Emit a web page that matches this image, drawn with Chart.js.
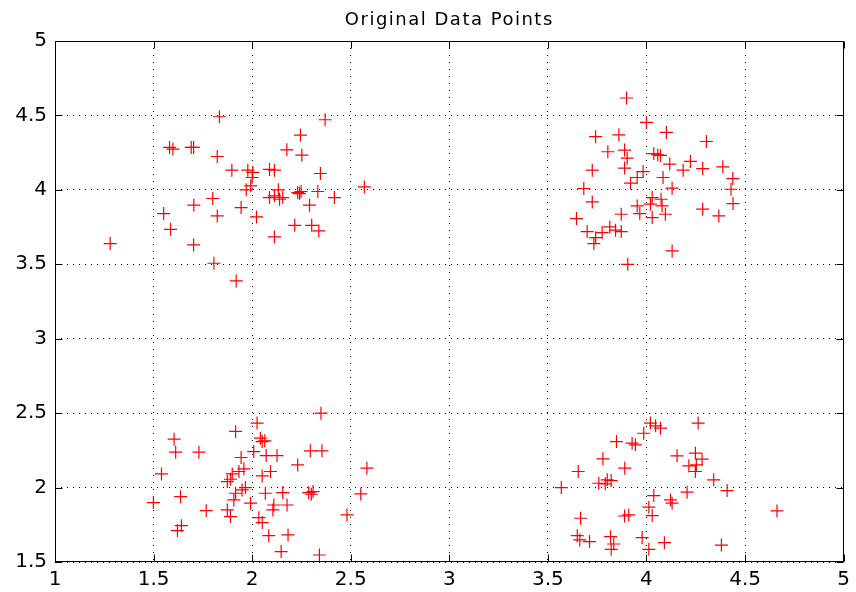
<!DOCTYPE html>
<html>
<head>
<meta charset="utf-8">
<title>Original Data Points</title>
<script src="https://cdn.jsdelivr.net/npm/chart.js@4/dist/chart.umd.min.js"></script>
<style>
  html, body { margin: 0; padding: 0; background: #fff; }
  #plot { display: block; }
</style>
</head>
<body>
<canvas id="plot" width="856" height="592"></canvas>
<script>
// ── Axis ticks ────────────────────────────────────────────────
const xTicks = [1, 1.5, 2, 2.5, 3, 3.5, 4, 4.5, 5];
const xTickLabels = ["1", "1.5", "2", "2.5", "3", "3.5", "4", "4.5", "5"];
const yTicks = [1.5, 2, 2.5, 3, 3.5, 4, 4.5, 5];
const yTickLabels = ["1.5", "2", "2.5", "3", "3.5", "4", "4.5", "5"];
const TITLE = "Original Data Points";

// ── Points, one pair of arrays per cluster ────────────────────
// upper left, around (2, 4)
const ulX = [1.834, 2.370, 2.245, 1.581, 1.598, 1.691, 1.703, 1.823, 2.176, 2.252,
             1.897, 1.978, 2.000, 2.003, 1.970, 1.993, 2.088, 2.113, 2.346, 2.133,
             2.088, 2.113, 2.139, 2.155, 2.231, 2.240, 2.248, 2.333, 2.417, 2.569,
             1.800, 1.704, 1.944, 2.291, 1.551, 1.823, 2.022, 1.586, 2.216, 2.302,
             2.338, 2.113, 1.280, 1.703, 1.806, 1.919];
const ulY = [4.491, 4.471, 4.368, 4.285, 4.274, 4.285, 4.285, 4.224, 4.269, 4.233,
             4.132, 4.132, 4.083, 4.117, 4.000, 4.027, 4.137, 4.132, 4.110, 4.000,
             3.948, 3.960, 3.937, 3.948, 3.982, 3.975, 3.989, 3.989, 3.948, 4.020,
             3.942, 3.897, 3.881, 3.897, 3.841, 3.825, 3.818, 3.735, 3.762, 3.762,
             3.724, 3.684, 3.639, 3.630, 3.507, 3.388];

// upper right, around (4, 4)
const urX = [3.899, 4.000, 4.101, 3.742, 3.860, 4.304, 3.804, 3.889, 3.902, 4.037,
             4.057, 4.071, 4.118, 4.186, 4.223, 4.285, 4.387, 4.438, 4.429, 4.439,
             3.725, 3.889, 3.983, 3.953, 3.919, 4.084, 4.130, 3.682, 3.725, 4.029,
             4.074, 4.020, 4.079, 3.953, 3.966, 4.096, 4.029, 3.872, 4.285, 4.367,
             3.645, 3.699, 3.742, 3.733, 3.775, 3.814, 3.843, 3.872, 4.130, 3.905];
const urY = [4.617, 4.453, 4.386, 4.357, 4.370, 4.325, 4.256, 4.267, 4.213, 4.244,
             4.235, 4.231, 4.173, 4.132, 4.191, 4.143, 4.155, 4.076, 4.004, 3.908,
             4.132, 4.146, 4.123, 4.083, 4.045, 4.083, 4.011, 4.009, 3.919, 3.948,
             3.937, 3.904, 3.892, 3.892, 3.841, 3.836, 3.814, 3.836, 3.870, 3.825,
             3.807, 3.720, 3.679, 3.639, 3.713, 3.751, 3.729, 3.720, 3.590, 3.500];

// lower left, around (2, 2)
const llX = [2.349, 2.025, 1.916, 1.604, 2.042, 2.051, 2.064, 1.612, 1.730, 2.008,
             2.071, 2.126, 2.295, 2.354, 1.944, 2.231, 2.582, 1.540, 1.958, 1.933,
             1.899, 2.093, 2.051, 1.874, 1.890, 1.966, 1.949, 2.067, 2.155, 2.287,
             2.300, 2.309, 2.551, 1.637, 1.499, 1.916, 1.907, 1.992, 2.110, 2.177,
             2.105, 1.767, 1.874, 1.890, 2.481, 2.034, 2.051, 1.641, 1.621, 2.084,
             2.182, 2.147, 2.341];
const llY = [2.500, 2.433, 2.377, 2.325, 2.332, 2.309, 2.314, 2.238, 2.238, 2.242,
             2.215, 2.215, 2.247, 2.247, 2.202, 2.152, 2.130, 2.092, 2.126, 2.108,
             2.092, 2.108, 2.078, 2.040, 2.056, 2.000, 1.984, 1.962, 1.966, 1.966,
             1.955, 1.973, 1.957, 1.939, 1.899, 1.962, 1.917, 1.895, 1.883, 1.883,
             1.850, 1.845, 1.850, 1.805, 1.816, 1.798, 1.765, 1.744, 1.711, 1.677,
             1.682, 1.570, 1.547];

// lower right, around (4, 2)
const lrX = [4.020, 4.046, 4.071, 3.986, 4.262, 3.848, 3.927, 3.944, 3.779, 3.890,
             4.155, 4.248, 4.282, 4.215, 4.253, 4.248, 3.654, 4.341, 4.409, 3.568,
             3.758, 3.791, 3.821, 3.801, 4.037, 4.122, 4.130, 4.206, 4.012, 4.029,
             3.889, 3.910, 3.666, 4.662, 3.649, 3.662, 3.711, 3.818, 3.834, 3.821,
             3.978, 4.012, 4.091, 4.380];
const lrY = [2.433, 2.415, 2.399, 2.365, 2.433, 2.309, 2.298, 2.287, 2.193, 2.130,
             2.213, 2.231, 2.191, 2.146, 2.152, 2.108, 2.108, 2.052, 1.980, 2.000,
             2.029, 2.025, 2.047, 2.052, 1.946, 1.917, 1.895, 1.969, 1.868, 1.812,
             1.809, 1.816, 1.794, 1.843, 1.677, 1.648, 1.637, 1.670, 1.621, 1.585,
             1.664, 1.585, 1.630, 1.614];

const clusters = [[ulX, ulY], [urX, urY], [llX, llY], [lrX, lrY]];
const points = clusters.flatMap(([xs, ys]) => xs.map((x, i) => ({ x, y: ys[i] })));

// ── Style ─────────────────────────────────────────────────────
const FONT = "'DejaVu Sans', 'Liberation Sans', sans-serif";
const TICK_LEN = 7;

// solid box round the plot area, inward tick marks on all four sides,
// and the title centred over the plot area
const axesBox = {
  id: "axesBox",
  afterDraw(chart) {
    const { ctx, chartArea: a, scales } = chart;
    const L = Math.round(a.left) + 0.5, R = Math.round(a.right) - 0.5;
    const T = Math.round(a.top) + 0.5, B = Math.round(a.bottom) - 0.5;
    ctx.save();
    ctx.strokeStyle = "#000";
    ctx.lineWidth = 1;
    ctx.strokeRect(L, T, R - L, B - T);
    ctx.beginPath();
    scales.x.ticks.forEach((t, i) => {
      const px = Math.round(scales.x.getPixelForTick(i)) + 0.5;
      ctx.moveTo(px, B); ctx.lineTo(px, B - TICK_LEN);
      ctx.moveTo(px, T); ctx.lineTo(px, T + TICK_LEN);
    });
    scales.y.ticks.forEach((t, i) => {
      const py = Math.round(scales.y.getPixelForTick(i)) + 0.5;
      ctx.moveTo(L, py); ctx.lineTo(L + TICK_LEN, py);
      ctx.moveTo(R, py); ctx.lineTo(R - TICK_LEN, py);
    });
    ctx.stroke();

    ctx.fillStyle = "#000";
    ctx.font = "18px " + FONT;
    ctx.letterSpacing = "1.5px";
    ctx.textAlign = "center";
    ctx.textBaseline = "alphabetic";
    ctx.fillText(TITLE, (a.left + a.right) / 2, a.top - 16);
    ctx.restore();
  }
};

new Chart(document.getElementById("plot"), {
  type: "scatter",
  data: {
    datasets: [{
      data: points,
      pointStyle: "cross",
      pointRadius: 6.5,
      pointHoverRadius: 6.5,
      borderColor: "#f00",
      backgroundColor: "#f00",
      borderWidth: 1.2,
    }]
  },
  options: {
    responsive: false,
    devicePixelRatio: 1,
    animation: false,
    layout: { padding: { left: 0, right: 8, top: 41, bottom: 0 } },
    plugins: {
      legend: { display: false },
      tooltip: { enabled: false },
      title: { display: false }
    },
    scales: {
      x: {
        type: "linear",
        position: "bottom",
        min: 1, max: 5,
        afterBuildTicks: s => { s.ticks = xTicks.map(v => ({ value: v })); },
        afterFit: s => { s.height = 30; },
        ticks: {
          autoSkip: false, maxRotation: 0,
          color: "#000", padding: 6,
          font: { family: FONT, size: 20 },
          callback: (v, i) => xTickLabels[i]
        },
        grid: { color: "#000", lineWidth: 1, drawTicks: false },
        border: { display: false, dash: [1, 6] }
      },
      y: {
        type: "linear",
        position: "left",
        min: 1.5, max: 5,
        afterBuildTicks: s => { s.ticks = yTicks.map(v => ({ value: v })); },
        afterFit: s => { s.width = 55; },
        ticks: {
          autoSkip: false,
          color: "#000", padding: 8,
          font: { family: FONT, size: 20 },
          callback: (v, i) => yTickLabels[i]
        },
        grid: { color: "#000", lineWidth: 1, drawTicks: false },
        border: { display: false, dash: [1, 5] }
      }
    }
  },
  plugins: [axesBox]
});
</script>
</body>
</html>
